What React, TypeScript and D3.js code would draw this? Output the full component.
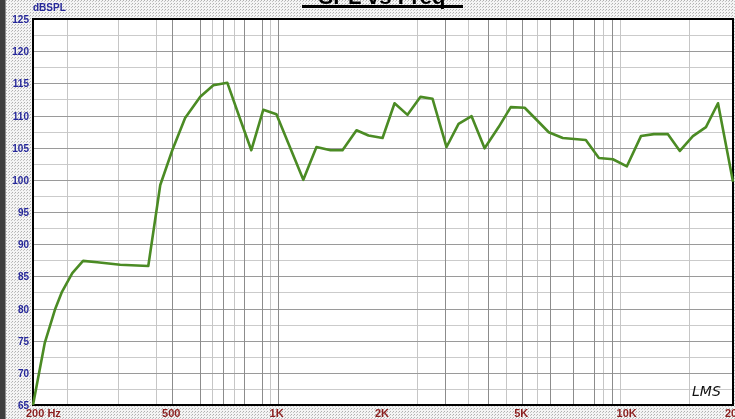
import * as d3 from "d3";
import React, { useRef, useEffect } from "react";

// frequency response (Hz / dBSPL)
const freqs = [
  200, 216, 231, 242, 259, 278, 305, 355, 427, 462, 500, 544, 601, 655, 718,
  783, 841, 910, 992, 1184, 1291, 1416, 1532, 1680, 1818, 1994, 2158, 2350,
  2560, 2771, 3038, 3288, 3582, 3902, 4280, 4634, 5080, 5500, 5951, 6526,
  7595, 8276, 9075, 9951, 10916, 11886, 13035, 14100, 15362, 16740, 18120,
  20000,
];
const spl = [
  65.0, 74.6, 79.8, 82.6, 85.5, 87.4, 87.2, 86.8, 86.6, 99.2, 104.6, 109.6,
  112.9, 114.7, 115.1, 109.3, 104.6, 110.9, 110.2, 100.0, 105.1, 104.6, 104.6,
  107.7, 106.9, 106.5, 111.9, 110.1, 112.9, 112.6, 105.1, 108.7, 109.9, 104.9,
  108.2, 111.3, 111.2, 109.3, 107.4, 106.5, 106.2, 103.4, 103.2, 102.1, 106.8,
  107.1, 107.1, 104.5, 106.8, 108.2, 111.9, 99.7,
];

const majorGridFreqs = [500, 600, 700, 800, 900, 1000, 3000, 4000, 5000, 6000, 7000, 8000, 9000];
const minorGridFreqs = [250, 350, 450, 650, 750, 950, 2500, 3500, 4500, 5500, 8500, 9500, 15000];
const xTickFreqs = [500, 1000, 2000, 5000, 10000, 20000];
const xTickLabels = ["500", "1K", "2K", "5K", "10K", "20"];
const yTickValues = [65, 70, 75, 80, 85, 90, 95, 100, 105, 110, 115, 120, 125];

const W = 735;
const H = 419;

const draw = (el: SVGSVGElement) => {
  const margin = { top: 19, right: 2, bottom: 14, left: 33 };
  const svg = d3.select(el);
  svg.selectAll("*").remove();

  const defs = svg.append("defs");
  const pat = defs
    .append("pattern")
    .attr("id", "dither")
    .attr("width", 3)
    .attr("height", 3)
    .attr("patternUnits", "userSpaceOnUse");
  pat.append("rect").attr("width", 3).attr("height", 3).attr("fill", "#f4f4f4");
  pat.append("rect").attr("x", 0).attr("y", 0).attr("width", 1).attr("height", 1).attr("fill", "#b0b0b0");
  pat.append("rect").attr("x", 2).attr("y", 1).attr("width", 1).attr("height", 1).attr("fill", "#c4c4c4");

  svg.append("rect").attr("width", W).attr("height", H).attr("fill", "url(#dither)");
  // window edge on the left
  svg.append("rect").attr("x", 0).attr("y", 0).attr("width", 5).attr("height", H).attr("fill", "#3e3e3e");
  svg.append("rect").attr("x", 5).attr("y", 0).attr("width", 1).attr("height", H).attr("fill", "#8a8a8a");

  const x = d3
    .scaleLog()
    .domain([200, 20000])
    .range([margin.left, W - margin.right]);
  const y = d3
    .scaleLinear()
    .domain([65, 125])
    .range([H - margin.bottom, margin.top]);

  const [x0, x1] = x.range();
  const [y0, y1] = y.range();

  svg
    .append("rect")
    .attr("x", x0)
    .attr("y", y1)
    .attr("width", x1 - x0)
    .attr("height", y0 - y1)
    .attr("fill", "#fff");

  const grid = svg.append("g");
  const minorDb = d3.range(67.5, 125, 5);
  grid
    .selectAll(".hminor")
    .data(minorDb)
    .join("line")
    .attr("x1", x0)
    .attr("x2", x1)
    .attr("y1", (d) => Math.round(y(d)) + 0.5)
    .attr("y2", (d) => Math.round(y(d)) + 0.5)
    .attr("stroke", "#cbcbcb");
  grid
    .selectAll(".vminor")
    .data(minorGridFreqs)
    .join("line")
    .attr("x1", (d) => Math.round(x(d)) + 0.5)
    .attr("x2", (d) => Math.round(x(d)) + 0.5)
    .attr("y1", y1)
    .attr("y2", y0)
    .attr("stroke", "#c6c6c6");
  grid
    .selectAll(".hmajor")
    .data(yTickValues)
    .join("line")
    .attr("x1", x0)
    .attr("x2", x1)
    .attr("y1", (d) => Math.round(y(d)) + 0.5)
    .attr("y2", (d) => Math.round(y(d)) + 0.5)
    .attr("stroke", "#9a9a9a");
  grid
    .selectAll(".vmajor")
    .data(majorGridFreqs)
    .join("line")
    .attr("x1", (d) => Math.round(x(d)) + 0.5)
    .attr("x2", (d) => Math.round(x(d)) + 0.5)
    .attr("y1", y1)
    .attr("y2", y0)
    .attr("stroke", "#8c8c8c");

  // plot frame
  svg
    .append("rect")
    .attr("x", x0)
    .attr("y", y1)
    .attr("width", x1 - x0)
    .attr("height", y0 - y1)
    .attr("fill", "none")
    .attr("stroke", "#000")
    .attr("stroke-width", 2);

  const line = d3
    .line<number>()
    .x((d, i) => x(freqs[i]))
    .y((d) => y(d));

  svg
    .append("path")
    .datum(spl)
    .attr("d", line)
    .attr("fill", "none")
    .attr("stroke", "#4b8b24")
    .attr("stroke-width", 2.6)
    .attr("stroke-linejoin", "round");

  // y labels
  svg
    .append("g")
    .selectAll("text")
    .data(yTickValues)
    .join("text")
    .attr("x", 29)
    .attr("y", (d) => y(d) + 4)
    .attr("text-anchor", "end")
    .style("font-family", "'Liberation Sans', Arial, sans-serif")
    .style("font-size", "10px")
    .style("font-weight", "bold")
    .attr("fill", "#26289a")
    .text((d) => d);

  svg
    .append("text")
    .attr("x", 33)
    .attr("y", 11)
    .style("font-family", "'Liberation Sans', Arial, sans-serif")
    .style("font-size", "10px")
    .style("font-weight", "bold")
    .attr("fill", "#26289a")
    .text("dBSPL");

  // x labels
  const xl = svg.append("g");
  xl.append("text")
    .attr("x", x(200) - 7)
    .attr("y", 417)
    .style("font-family", "'Liberation Sans', Arial, sans-serif")
    .style("font-size", "11px")
    .style("font-weight", "bold")
    .attr("fill", "#8b1e1e")
    .text("200 Hz");
  xl.selectAll(".xt")
    .data(xTickFreqs)
    .join("text")
    .attr("x", (d, i) => (i === xTickFreqs.length - 1 ? x(d) - 8 : x(d) - 1))
    .attr("y", 417)
    .attr("text-anchor", (d, i) => (i === xTickFreqs.length - 1 ? "start" : "middle"))
    .style("font-family", "'Liberation Sans', Arial, sans-serif")
    .style("font-size", "11px")
    .style("font-weight", "bold")
    .attr("fill", "#8b1e1e")
    .text((d, i) => xTickLabels[i]);

  // title, cut off at the top of the window
  svg
    .append("text")
    .attr("x", 382)
    .attr("y", 4)
    .attr("text-anchor", "middle")
    .style("font-family", "'Liberation Sans', Arial, sans-serif")
    .style("font-size", "22px")
    .style("font-weight", "bold")
    .attr("fill", "#000")
    .text("SPL vs Freq");
  svg.append("rect").attr("x", 302).attr("y", 5).attr("width", 161).attr("height", 3).attr("fill", "#000");

  svg
    .append("text")
    .attr("x", 692)
    .attr("y", 396)
    .style("font-family", "'DejaVu Sans', sans-serif")
    .style("font-size", "14px")
    .style("font-style", "italic")
    .attr("fill", "#111")
    .text("LMS");
};

export default function App() {
  const ref = useRef<SVGSVGElement>(null);
  useEffect(() => {
    if (ref.current) draw(ref.current);
  }, []);
  return (
    <svg
      ref={ref}
      width={W}
      height={H}
      style={{ position: "fixed", left: 0, top: 0, display: "block" }}
    />
  );
}
